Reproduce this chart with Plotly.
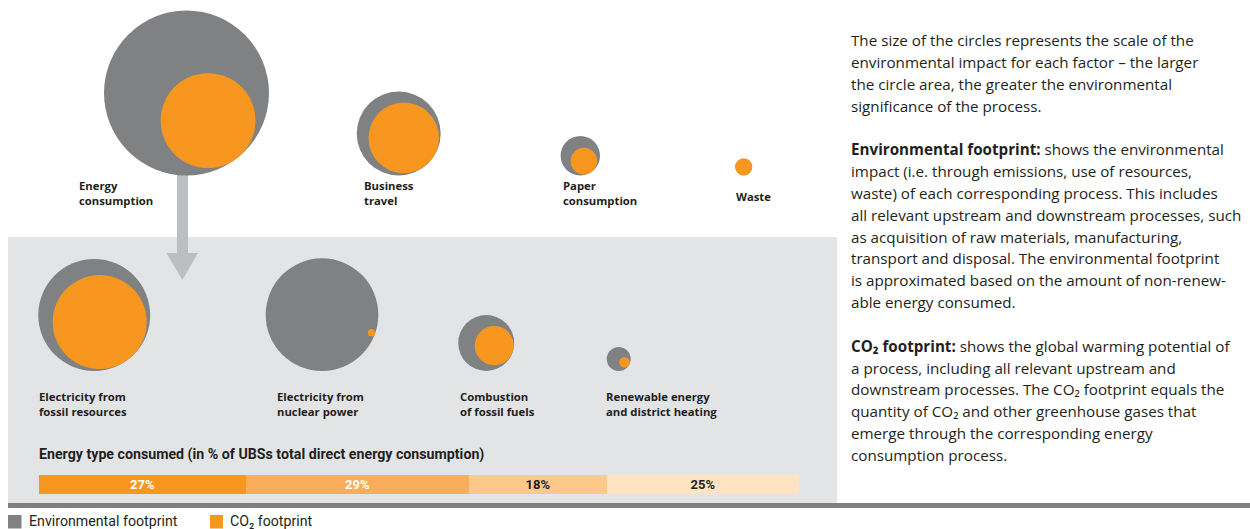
import math
import plotly.graph_objects as go

# ---------------- data ----------------
top_names = ["Energy<br>consumption", "Business<br>travel", "Paper<br>consumption", "Waste"]
top_env = [100.0, 25.9, 5.7, 1.0]     # relative environmental footprint (circle area)
top_co2 = [33.1, 18.3, 2.6, 1.09]     # relative CO2 footprint (circle area)

sub_names = ["Electricity from<br>fossil resources", "Electricity from<br>nuclear power",
             "Combustion<br>of fossil fuels", "Renewable energy<br>and district heating"]
sub_env = [46.0, 46.6, 11.5, 2.1]
sub_co2 = [32.5, 0.2, 5.6, 0.41]

share_labels = ["27%", "29%", "18%", "25%"]
share_values = [27, 29, 18, 25]

# ---------------- layout constants ----------------
W, H = 1250, 529
K = 8.25  # px radius per sqrt(unit)
GRAY = "#808183"
ORANGE = "#F7971F"
PANEL = "#E3E4E6"
ARROW = "#BDBEC0"
TXT = "#231F20"
SEG_COLORS = ["#F7971F", "#F9AD5A", "#FDC98A", "#FEE3C3"]
SEG_TEXT = ["white", "white", TXT, TXT]

top_cx = [186.5, 398.7, 580.3, 743.7]
top_bottom = 175.5
top_ang = [52, 41, 56, 0]
top_lbl = [(77, 193), (362, 193), (561, 193), (734, 196)]

sub_cx = [94.2, 322.0, 486.2, 618.7]
sub_bottom = 371.0
sub_ang = [52, 20, 18, 29]
sub_lbl = [(37, 404), (275, 404), (458, 404), (604, 404)]

LBL_FONT = "Open Sans"
NARROW = "Liberation Sans Narrow, Roboto, sans-serif"
fig = go.Figure()

def add_group(cx_list, bottom, env, co2, angs):
    gx, gy, gs, ox, oy, osz = [], [], [], [], [], []
    for cx, e, c, a in zip(cx_list, env, co2, angs):
        rg = K * math.sqrt(e)
        ro = K * math.sqrt(c)
        cy = bottom - max(rg, ro)
        if rg >= ro:
            d = rg - ro
            ocx = cx + d * math.cos(math.radians(a))
            ocy = cy + d * math.sin(math.radians(a))
        else:
            ocx, ocy = cx, cy
        gx.append(cx); gy.append(cy); gs.append(2 * rg)
        ox.append(ocx); oy.append(ocy); osz.append(2 * ro)
    fig.add_trace(go.Scatter(x=gx, y=gy, mode="markers", showlegend=False, hoverinfo="skip",
                             marker=dict(size=gs, sizemode="diameter", color=GRAY, opacity=1,
                                         line=dict(width=0)),
                             xaxis="x", yaxis="y"))
    fig.add_trace(go.Scatter(x=ox, y=oy, mode="markers", showlegend=False, hoverinfo="skip",
                             marker=dict(size=osz, sizemode="diameter", color=ORANGE, opacity=1,
                                         line=dict(width=0)),
                             xaxis="x", yaxis="y"))

add_group(top_cx, top_bottom, top_env, top_co2, top_ang)
add_group(sub_cx, sub_bottom, sub_env, sub_co2, sub_ang)

# stacked share bar
for lab, v, col, tc in zip(share_labels, share_values, SEG_COLORS, SEG_TEXT):
    fig.add_trace(go.Bar(y=["share"], x=[v], orientation="h", marker=dict(color=col, line=dict(width=0)),
                         text=[lab], textposition="inside", insidetextanchor="middle",
                         constraintext="none", textangle=0,
                         textfont=dict(family=NARROW, size=13, color=tc, weight="bold"),
                         width=1.0, showlegend=False, hoverinfo="skip",
                         xaxis="x2", yaxis="y2"))

shapes = []
# grey panel
shapes.append(dict(type="rect", xref="x", yref="y", x0=8, x1=837, y0=237, y1=503,
                   fillcolor=PANEL, line=dict(width=0), layer="below"))
# dark base line
shapes.append(dict(type="rect", xref="x", yref="y", x0=8, x1=1250, y0=503, y1=508,
                   fillcolor="#808080", line=dict(width=0), layer="below"))
# arrow stem + head
shapes.append(dict(type="rect", xref="x", yref="y", x0=177, x1=188, y0=175, y1=254,
                   fillcolor=ARROW, line=dict(width=0), layer="below"))
shapes.append(dict(type="path", xref="x", yref="y", path="M 166.5 253 L 198 253 L 182.3 280 Z",
                   fillcolor=ARROW, line=dict(width=0), layer="below"))
# legend squares
shapes.append(dict(type="rect", xref="x", yref="y", x0=8, x1=21.5, y0=515, y1=528.5,
                   fillcolor=GRAY, line=dict(width=0)))
shapes.append(dict(type="rect", xref="x", yref="y", x0=210, x1=223, y0=515, y1=528.5,
                   fillcolor=ORANGE, line=dict(width=0)))

ann = []
def txt(x, y, t, size=11.5, bold=False, family=LBL_FONT, color=TXT, yanchor="middle"):
    ann.append(dict(x=x, y=y, xref="x", yref="y", text=t, showarrow=False, xanchor="left",
                    yanchor=yanchor, align="left",
                    font=dict(family=family, size=size, color=color, weight="bold" if bold else "normal")))

for (x, y), name in zip(top_lbl, top_names):
    txt(x, y, name, size=11.3, bold=True)
for (x, y), name in zip(sub_lbl, sub_names):
    txt(x, y, name, size=11.3, bold=True)

txt(37, 454, "Energy type consumed (in % of UBSs total direct energy consumption)", size=14.2, bold=True,
    family=NARROW)

txt(27, 520.5, "Environmental footprint", size=14.2, family=NARROW)
txt(228, 520.5, "CO₂ footprint", size=14.2, family=NARROW)

right_lines = [
    "The size of the circles represents the scale of the",
    "environmental impact for each factor – the larger",
    "the circle area, the greater the environmental",
    "significance of the process.",
    "",
    "<b>Environmental footprint:</b> shows the environmental",
    "impact (i.e. through emissions, use of resources,",
    "waste) of each corresponding process. This includes",
    "all relevant upstream and downstream processes, such",
    "as acquisition of raw materials, manufacturing,",
    "transport and disposal. The environmental footprint",
    "is approximated based on the amount of non-renew-",
    "able energy consumed.",
    "",
    "<b>CO₂ footprint:</b> shows the global warming potential of",
    "a process, including all relevant upstream and",
    "downstream processes. The CO₂ footprint equals the",
    "quantity of CO₂ and other greenhouse gases that",
    "emerge through the corresponding energy",
    "consumption process.",
]
for i, line in enumerate(right_lines):
    if line:
        txt(849, 40 + i * 21.84, line, size=15.2, family="Open Sans")

fig.update_layout(
    width=W, height=H, margin=dict(l=0, r=0, t=0, b=0),
    paper_bgcolor="white", plot_bgcolor="rgba(0,0,0,0)",
    xaxis=dict(range=[0, W], visible=False, fixedrange=True, domain=[0, 1]),
    yaxis=dict(range=[H, 0], visible=False, fixedrange=True, domain=[0, 1]),
    xaxis2=dict(range=[0, sum(share_values)], visible=False, fixedrange=True,
                domain=[39 / W, 799 / W], anchor="y2"),
    yaxis2=dict(visible=False, fixedrange=True, domain=[(H - 494) / H, (H - 475) / H], anchor="x2"),
    barmode="stack", bargap=0,
    shapes=shapes, annotations=ann, showlegend=False,
    uniformtext=dict(mode=False),
)

fig.write_html("out.html")
